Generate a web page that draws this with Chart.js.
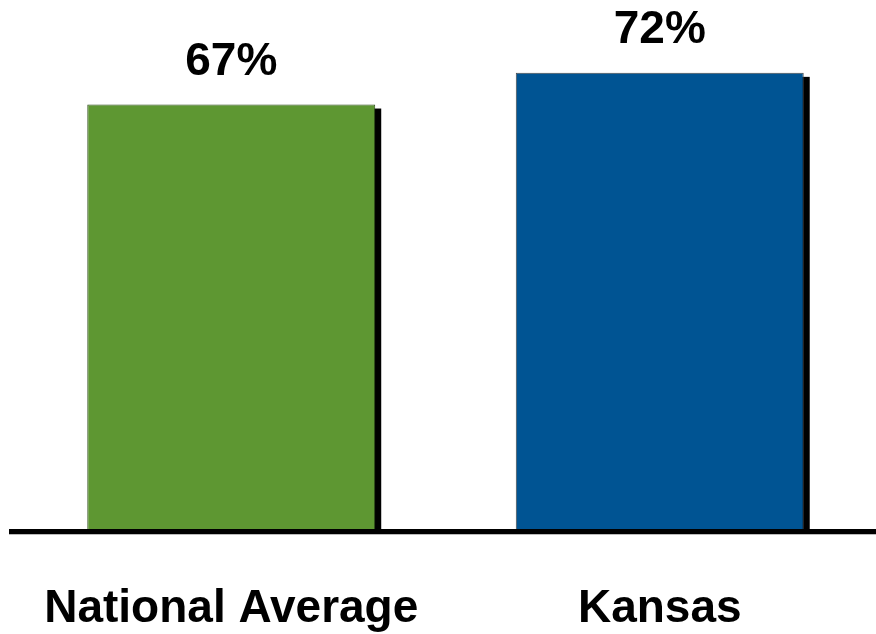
<!DOCTYPE html>
<html>
<head>
<meta charset="utf-8">
<script src="https://cdn.jsdelivr.net/npm/chart.js@4/dist/chart.umd.min.js"></script>
<style>
html,body{margin:0;padding:0;background:#fff;}
#wrap{width:876px;height:634px;position:relative;}
</style>
</head>
<body>
<div id="wrap"><canvas id="c" width="876" height="634"></canvas></div>
<script>
const categories = ["National Average", "Kansas"];
const values = [67, 72];
const barColors = ["#5E9732", "#005493"];
const borderColors = ["#2E4A1C", "#4A4A4A"];

const FONT = "'Liberation Sans', Arial, sans-serif";

const shadowPlugin = {
  id: 'shadow',
  beforeDatasetsDraw(chart) {
    const ctx = chart.ctx;
    const meta = chart.getDatasetMeta(0);
    ctx.save();
    ctx.fillStyle = '#000';
    meta.data.forEach((el) => {
      const p = el.getProps(['x', 'y', 'base', 'width'], true);
      ctx.fillRect(p.x - p.width / 2 + 6, p.y + 4, p.width, p.base - p.y - 4);
    });
    ctx.restore();
  },
  afterDatasetsDraw(chart) {
    const ctx = chart.ctx;
    // baseline
    const y0 = chart.scales.y.getPixelForValue(0);
    ctx.save();
    ctx.fillStyle = '#000';
    ctx.fillRect(9, Math.round(y0), chart.width - 9, 5);
    ctx.fillStyle = '#bbb';
    ctx.fillRect(9, Math.round(y0) + 5, chart.width - 9, 1);
    // value labels
    const meta = chart.getDatasetMeta(0);
    ctx.fillStyle = '#000';
    ctx.font = "bold 46px " + FONT;
    ctx.textAlign = 'center';
    ctx.textBaseline = 'alphabetic';
    meta.data.forEach((el, i) => {
      ctx.fillText(values[i] + '%', el.x, el.y - 30);
    });
    ctx.restore();
  }
};

new Chart(document.getElementById('c'), {
  type: 'bar',
  data: {
    labels: categories,
    datasets: [{
      data: values,
      backgroundColor: barColors,
      borderColor: borderColors,
      borderWidth: 1,
      categoryPercentage: 1,
      barPercentage: 0.672
    }]
  },
  options: {
    responsive: false,
    animation: false,
    devicePixelRatio: 1,
    layout: { padding: { left: 17, right: 2, top: 0, bottom: 0 } },
    plugins: { legend: { display: false }, tooltip: { enabled: false } },
    scales: {
      x: {
        grid: { display: false, drawTicks: false },
        border: { display: false },
        ticks: {
          color: '#000',
          padding: 53,
          font: { family: FONT, size: 46, weight: 'bold' }
        },
        afterFit(scale) {
          scale.height = 105;
          scale.paddingLeft = 0;
          scale.paddingRight = 0;
        }
      },
      y: {
        display: false,
        min: 0,
        max: 83.5
      }
    }
  },
  plugins: [shadowPlugin]
});
</script>
</body>
</html>
